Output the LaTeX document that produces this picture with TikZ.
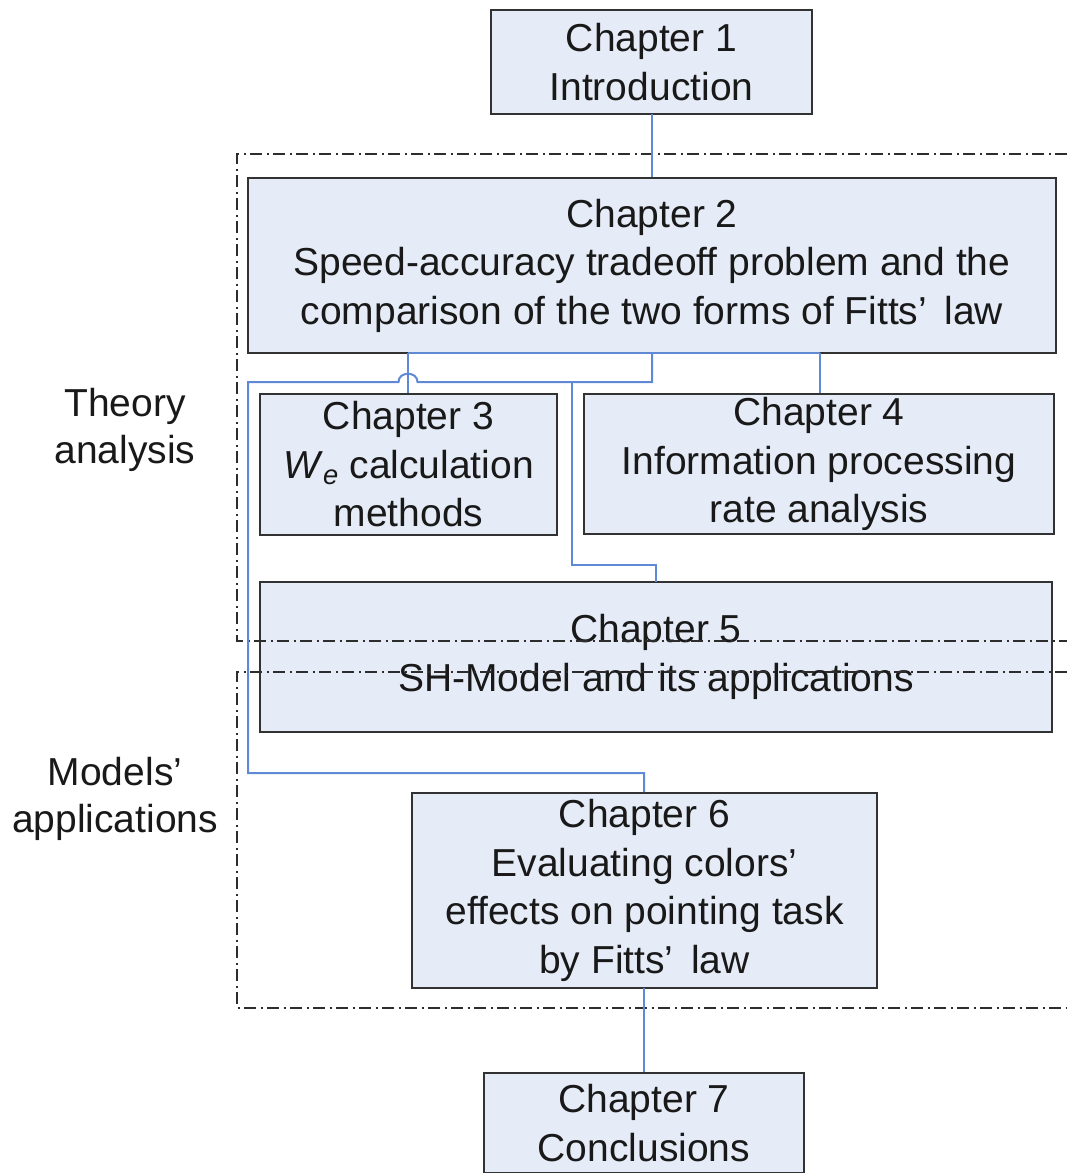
\documentclass[tikz,border=0pt]{standalone}
\usepackage{fontspec}
\setmainfont{Liberation Sans}
\definecolor{boxfill}{RGB}{230,236,247}
\definecolor{boxline}{RGB}{50,50,50}
\definecolor{connblue}{RGB}{95,137,212}
\definecolor{dashgray}{RGB}{45,45,45}
\begin{document}
\begin{tikzpicture}[x=1pt,y=-1pt,
  chbox/.style={draw=boxline, fill=boxfill, line width=2pt, align=center,
    inner sep=0pt, font=\fontsize{39}{48.5}\selectfont, text=black!90},
  side/.style={align=center, inner sep=0pt, font=\fontsize{39}{46.5}\selectfont, text=black!90},
  conn/.style={draw=connblue, line width=2pt},
  region/.style={draw=dashgray, line width=1.8pt, dash pattern=on 12pt off 4.5pt on 2pt off 4.5pt}]
\useasboundingbox (0,0) rectangle (1067,1173);
% boxes
\node[chbox, minimum width=321pt, minimum height=104pt] (c1) at (651.5,62) {Chapter 1\\Introduction};
\node[chbox, minimum width=808pt, minimum height=175pt] (c2) at (652,265.5) {Chapter 2\\Speed-accuracy tradeoff problem and the\\comparison of the two forms of Fitts’\hspace{0.45em}law};
\node[chbox, minimum width=297pt, minimum height=141pt] (c3) at (408.5,464.5) {Chapter 3\\\textit{W}\textsubscript{\textit{e}} calculation\\methods};
\node[chbox, minimum width=470pt, minimum height=140pt] (c4) at (819,464) {Chapter 4\\Information processing\\rate analysis};
\node[chbox, minimum width=792pt, minimum height=150pt] (c5) at (656,657) {Chapter 5\\SH-Model and its applications};
\node[chbox, minimum width=465pt, minimum height=195pt] (c6) at (644.5,890.5) {Chapter 6\\Evaluating colors’\\effects on pointing task\\by Fitts’\hspace{0.45em}law};
\node[chbox, minimum width=320pt, minimum height=100pt] (c7) at (644,1123) {Chapter 7\\Conclusions};
% side labels
\node[side] (lt) at (125,430) {Theory\\analysis};
\node[side] (lm) at (115,799) {Models’\\applications};
% region frames
\draw[region] (1067,154) -- (237,154) -- (237,641) -- (1067,641);
\draw[region] (1067,672) -- (237,672) -- (237,1008) -- (1067,1008);
% connectors
\coordinate (j3) at (408,353);
\coordinate (j4) at (820,353);
\coordinate (t1) at (652,114);
\coordinate (h) at (652,382);
\coordinate (hl) at (248,382);
\coordinate (hb) at (248,773);
\coordinate (b5) at (572,382);
\coordinate (m5) at (572,565);
\coordinate (v6) at (644,773);
\coordinate (v7) at (644,988);
\draw[conn] (t1) -- (t1 |- c2.north);
\draw[conn] (j3) -- (j4);
\draw[conn] (j3) -- (j3 |- c3.north);
\draw[conn] (j4) -- (j4 |- c4.north);
\draw[conn] (h |- c2.south) -- (h) -- (417.5,382) .. controls (417.5,371) and (398.5,371) .. (398.5,382) -- (hl) -- (hb) -- (v6) -- (v6 |- c6.north);
\draw[conn] (b5) -- (m5) -- (656,565) -- (656,582);
\draw[conn] (v7) -- (v7 |- c7.north);
\end{tikzpicture}
\end{document}
